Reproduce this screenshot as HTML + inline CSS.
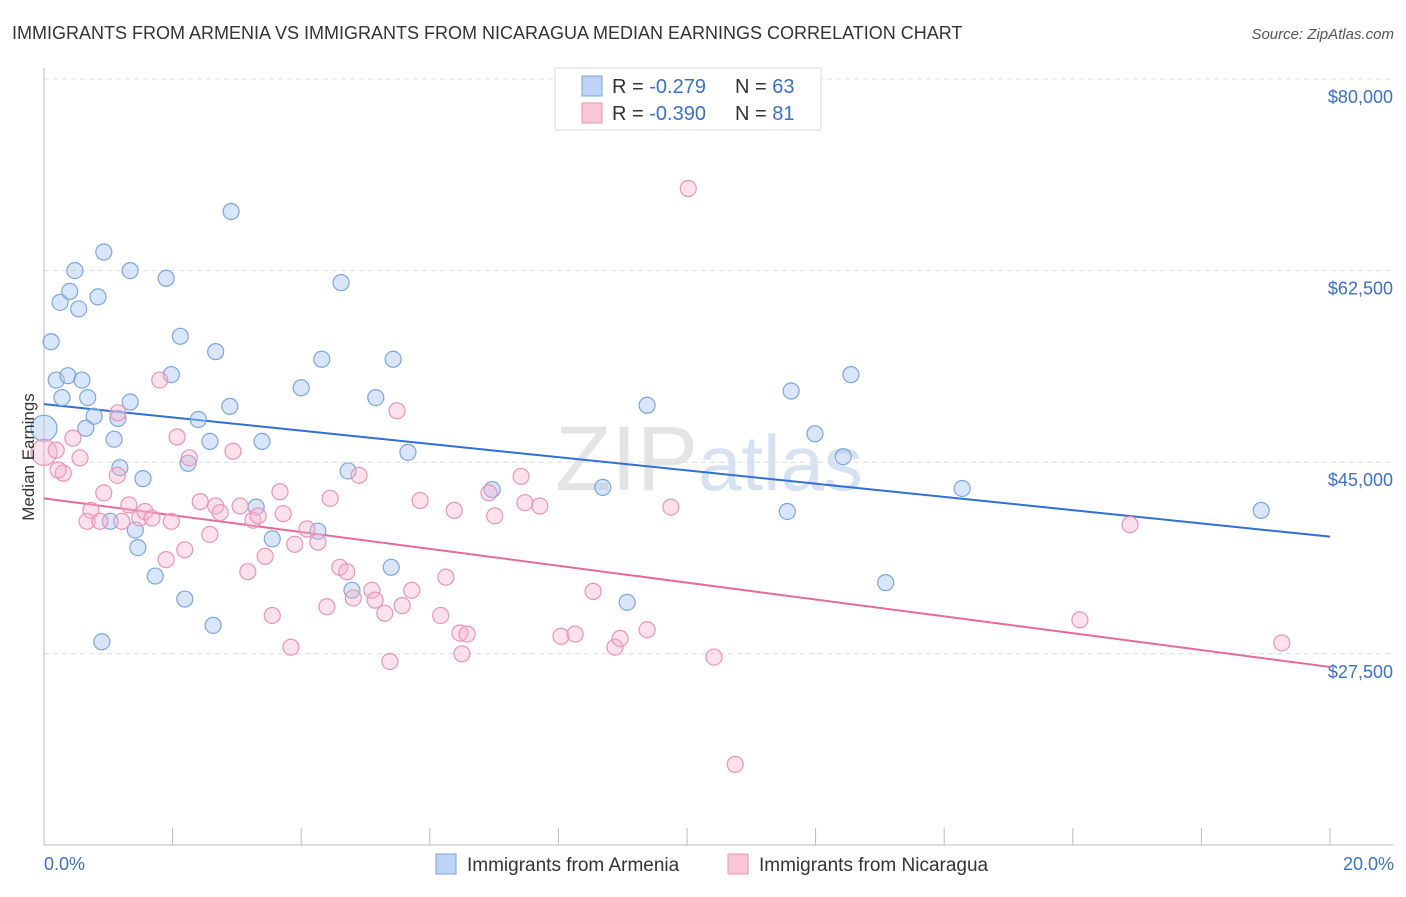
<!DOCTYPE html>
<html><head><meta charset="utf-8">
<style>
body{margin:0;background:#fff;font-family:"Liberation Sans",sans-serif;}
svg text{font-family:"Liberation Sans",sans-serif;}
</style></head>
<body>
<svg id="chart" width="1406" height="892" xmlns="http://www.w3.org/2000/svg">
<text x="12" y="39" font-size="18" fill="#333">IMMIGRANTS FROM ARMENIA VS IMMIGRANTS FROM NICARAGUA MEDIAN EARNINGS CORRELATION CHART</text>
<text x="1394" y="39" font-size="15" fill="#555" text-anchor="end" font-style="italic">Source: ZipAtlas.com</text>
<text x="555" y="490" font-size="92" fill="#e4e4e4" font-family="Liberation Serif">ZIP<tspan fill="#d6e2f2" font-family="Liberation Sans" font-size="78">atlas</tspan></text>
<g id="grid"></g>
<g id="axes"></g>
<g id="trends"></g>
<g id="points"></g>
<text transform="translate(34,457) rotate(-90)" font-size="17" fill="#333" text-anchor="middle">Median Earnings</text>
<text x="44" y="870" font-size="18" fill="#3a6fd0">0.0%</text>
<text x="1394" y="870" font-size="18" fill="#3a6fd0" text-anchor="end">20.0%</text>
<g>
<rect x="555" y="68" width="266" height="62" fill="#fff" stroke="#ddd"/>
<rect x="582" y="76" width="20" height="20" fill="#bcd3f5" stroke="#7aa6e0"/>
<rect x="582" y="103" width="20" height="20" fill="#f8c6d6" stroke="#ea94b4"/>
<text x="612" y="93" font-size="20" fill="#333">R = <tspan fill="#3a6fd0">-0.279</tspan><tspan x="735">N = </tspan><tspan fill="#3a6fd0">63</tspan></text>
<text x="612" y="120" font-size="20" fill="#333">R = <tspan fill="#3a6fd0">-0.390</tspan><tspan x="735">N = </tspan><tspan fill="#3a6fd0"> 81</tspan></text>
</g>
<g>
<rect x="436" y="854" width="20" height="20" fill="#bcd3f5" stroke="#7aa6e0"/>
<text x="467" y="871" font-size="19" fill="#333">Immigrants from Armenia</text>
<rect x="728" y="854" width="20" height="20" fill="#f8c6d6" stroke="#ea94b4"/>
<text x="759" y="871" font-size="19" fill="#333">Immigrants from Nicaragua</text>
</g>
</svg>
<script>
const yTicks=[80000,62500,45000,27500];
const yTickLabels=["$80,000","$62,500","$45,000","$27,500"];
const xTicks=[0,2,4,6,8,10,12,14,16,18,20];
const armeniaX=[0.11,0.19,0.28,0.37,0.59,0.68,0.78,0.65,1.09,1.15,0.25,0.40,0.48,0.54,0.84,0.93,1.34,1.90,2.12,1.98,1.34,2.40,2.67,2.89,2.58,2.24,1.18,1.54,1.03,1.46,1.42,1.73,2.19,2.63,0.90,2.91,3.39,3.30,3.55,4.26,4.00,4.32,4.62,4.73,5.16,5.43,5.66,4.79,5.40,6.97,8.69,9.07,9.38,11.62,11.99,11.56,12.55,12.43,13.09,14.28,18.93,0];
const armeniaY=[56.0,52.5,50.9,52.9,52.5,50.9,49.2,48.1,47.1,49.0,59.6,60.6,62.5,59.0,60.1,64.2,62.5,61.8,56.5,53.0,50.5,48.9,55.1,50.1,46.9,44.9,44.5,43.5,39.6,37.2,38.8,34.6,32.5,30.1,28.6,67.9,46.9,40.9,38.0,38.7,51.8,54.4,61.4,44.2,50.9,54.4,45.9,33.3,35.4,42.5,42.7,32.2,50.2,51.5,47.6,40.5,53.0,45.5,34.0,42.6,40.6,48.1];
const nicaraguaX=[0,0.19,0.30,0.45,0.56,0.73,0.93,0.67,1.15,1.14,0.87,1.32,1.21,1.49,1.57,1.68,1.80,2.07,1.98,1.90,2.19,2.26,2.43,2.58,2.67,2.74,2.94,3.05,3.17,3.25,3.33,3.44,3.67,3.72,3.55,3.84,3.90,4.09,4.26,4.45,4.40,4.60,4.71,4.81,4.90,5.10,5.15,5.30,5.49,5.57,5.38,5.72,5.85,6.17,6.25,6.38,6.47,6.50,6.58,7.01,6.92,7.42,7.48,7.71,8.04,8.26,8.54,8.88,8.96,9.38,9.75,10.02,10.42,10.75,16.11,16.89,19.25,0.22];
const nicaraguaY=[45.9,46.1,44.0,47.2,45.4,40.6,42.2,39.6,49.5,43.8,39.6,41.1,39.6,39.9,40.5,39.9,52.5,47.3,39.6,36.1,37.0,45.4,41.4,38.4,41.0,40.4,46.0,41.0,35.0,39.7,40.1,36.4,42.3,40.3,31.0,28.1,37.5,38.9,37.7,41.7,31.8,35.4,35.0,32.6,43.8,33.3,32.4,31.2,49.7,31.9,26.8,33.3,41.5,31.0,34.5,40.6,29.4,27.5,29.3,40.1,42.2,43.7,41.3,41.0,29.1,29.3,33.2,28.1,28.9,29.7,40.9,70.0,27.2,17.4,30.6,39.3,28.5,44.3];
const armeniaTrend=[50.3,38.2];
const nicaraguaTrend=[41.7,26.3];

const NS="http://www.w3.org/2000/svg";
function xs(p){return 44+p/20*1286;}
function ys(v){return 79+(80000-v)/17500*191.6;}
function mk(tag,attrs,parent){const e=document.createElementNS(NS,tag);for(const k in attrs)e.setAttribute(k,attrs[k]);parent.appendChild(e);return e;}
const grid=document.getElementById('grid'),axes=document.getElementById('axes'),trends=document.getElementById('trends'),pts=document.getElementById('points');
yTicks.forEach((v,i)=>{
  const l=mk('line',{x1:44,x2:1393,y1:ys(v),y2:ys(v),stroke:'#dcdcdc','stroke-dasharray':'5,4'},grid);
  
  
  const t=mk('text',{x:1393,y:ys(v)+24,'font-size':18,fill:'#3a6fd0','text-anchor':'end'},grid);
  
  
  t.textContent=yTickLabels[i];
});
const xa=mk('line',{x1:44,x2:1393,y1:845,y2:845,stroke:'#bbb'},axes);


const ya=mk('line',{x1:44,x2:44,y1:68,y2:845,stroke:'#bbb'},axes);


xTicks.forEach(p=>{
  const t=mk('line',{x1:xs(p),x2:xs(p),y1:828,y2:845,stroke:'#bbb'},axes);
  
  
});
function drawSeries(X,Y,fill,stroke,name){
  X.forEach((x,i)=>{
    const big=(x===0);
    const c=mk('circle',{cx:xs(x),cy:ys(Y[i]*1000),r:big?13:8,fill:fill,stroke:stroke,'stroke-width':1.2},pts);
    
    
  });
}
drawSeries(armeniaX,armeniaY,'rgba(170,200,242,0.45)','#7aa6e0','armenia-point');
drawSeries(nicaraguaX,nicaraguaY,'rgba(246,180,204,0.4)','#ea94b4','nicaragua-point');
const t1=mk('line',{x1:xs(0),x2:xs(20),y1:ys(armeniaTrend[0]*1000),y2:ys(armeniaTrend[1]*1000),stroke:'#2f6fd6','stroke-width':2},trends);


const t2=mk('line',{x1:xs(0),x2:xs(20),y1:ys(nicaraguaTrend[0]*1000),y2:ys(nicaraguaTrend[1]*1000),stroke:'#e8689a','stroke-width':2},trends);


</script>
</body></html>
